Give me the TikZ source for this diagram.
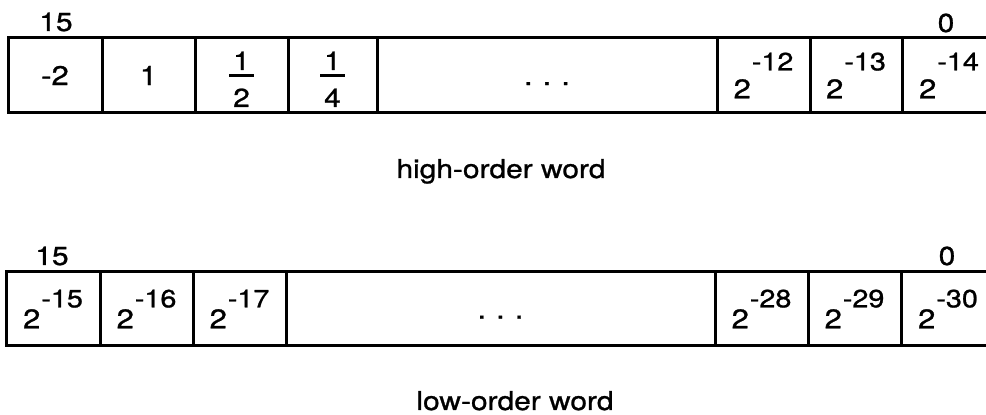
\documentclass[tikz,border=0pt]{standalone}
\usepackage{fontspec}
\setmainfont[FakeStretch=1.15, FakeBold=1.0]{TeX Gyre Heros}
\usetikzlibrary{positioning}

\newcommand{\pw}[2]{2\kern0.5pt\raisebox{#1}{\fontsize{12.5}{14}\selectfont -#2}}

\begin{document}
\begin{tikzpicture}[x=0.5pt, y=-0.5pt,
        cell/.style={draw, line width=1.5pt, inner sep=0pt, outer sep=0pt,
            font=\fontsize{13.5}{15}\selectfont, text centered},
        hcell/.style={cell, minimum height=37.5pt},
        lcell/.style={cell, minimum height=37pt},
        lbl/.style={inner sep=0pt, anchor=base, font=\fontsize{13}{15}\selectfont},
        bar/.style={line width=1.3pt},
    ]
        \useasboundingbox (0,0) rectangle (986,415);
        \clip (0,0) rectangle (986,415);

        % High-order word
        \node[hcell, minimum width=47pt] (h1) at (55,75.5) {-2};
        \node[hcell, minimum width=46.5pt] (h2) at (148.5,75.5) {1};
        \node[hcell, minimum width=46.5pt] (h3) at (241.5,75.5) {};
        \node[hcell, minimum width=44.5pt] (h4) at (332.5,75.5) {};
        \node[hcell, minimum width=170pt] (h5) at (547,75.5) {\vphantom{1}.\hspace{5pt}.\hspace{5pt}.};
        \node[hcell, minimum width=46.5pt] (h6) at (763.5,75.5) {\pw{14pt}{12}};
        \node[hcell, minimum width=46pt] (h7) at (856,75.5) {\pw{14pt}{13}};
        \node[hcell, minimum width=47pt] (h8) at (949,75.5) {\pw{14pt}{14}};

        % Fractions
        \node[lbl] (h3n) at (241.5,70) {1};
        \node[lbl] (h3d) at (241.5,107) {2};
        \draw[bar] ([xshift=-6.25pt]h3.center) -- ([xshift=6.25pt]h3.center);
        \node[lbl] (h4n) at (332.5,70) {1};
        \node[lbl] (h4d) at (332.5,107) {4};
        \draw[bar] ([xshift=-6.25pt]h4.center) -- ([xshift=6.25pt]h4.center);

        \node[lbl] (h15) at (56,31) {15};
        \node[lbl] (h0) at (946,32) {0};
        \node[lbl] (hname) at (501,178) {high-order word};

        % Low-order word
        \node[lcell, minimum width=47pt] (l1) at (53,309) {\pw{10.5pt}{15}};
        \node[lcell, minimum width=46.5pt] (l2) at (146.5,309) {\pw{10.5pt}{16}};
        \node[lcell, minimum width=46.5pt] (l3) at (239.5,309) {\pw{10.5pt}{17}};
        \node[lcell, minimum width=214.5pt] (l4) at (500.5,309) {\vphantom{1}.\hspace{5pt}.\hspace{5pt}.};
        \node[lcell, minimum width=46.5pt] (l5) at (761.5,309) {\pw{10.5pt}{28}};
        \node[lcell, minimum width=46.5pt] (l6) at (854.5,309) {\pw{10.5pt}{29}};
        \node[lcell, minimum width=47pt] (l7) at (948,309) {\pw{10.5pt}{30}};

        \node[lbl] (l15) at (52,265) {15};
        \node[lbl] (l0) at (947,265) {0};
        \node[lbl] (lname) at (515,410) {low-order word};
    \end{tikzpicture}
\end{document}
